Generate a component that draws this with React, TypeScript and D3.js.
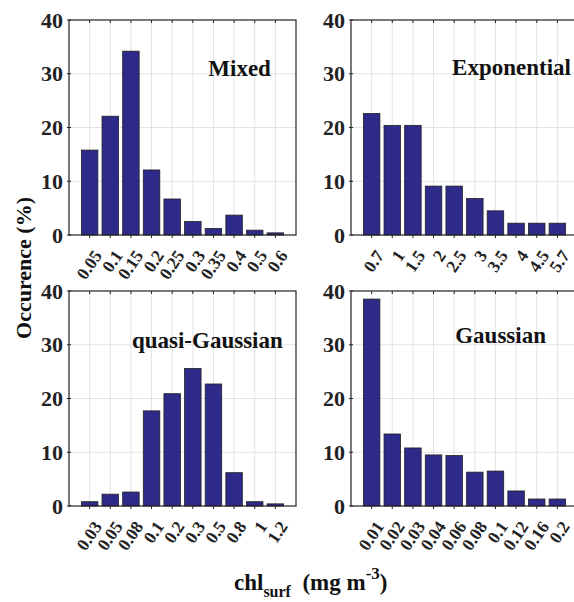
import React, { useEffect, useRef } from 'react';
import * as d3 from 'd3';

// chl_surf class labels for each panel
const mixedBins = ['0.05', '0.1', '0.15', '0.2', '0.25', '0.3', '0.35', '0.4', '0.5', '0.6'];
const exponentialBins = ['0.7', '1', '1.5', '2', '2.5', '3', '3.5', '4', '4.5', '5.7'];
const quasiGaussianBins = ['0.03', '0.05', '0.08', '0.1', '0.2', '0.3', '0.5', '0.8', '1', '1.2'];
const gaussianBins = ['0.01', '0.02', '0.03', '0.04', '0.06', '0.08', '0.1', '0.12', '0.16', '0.2'];

// occurrence (%) per bin
const mixedValues = [15.8, 22.1, 34.2, 12.1, 6.7, 2.5, 1.2, 3.7, 0.9, 0.4];
const exponentialValues = [22.6, 20.4, 20.4, 9.1, 9.1, 6.8, 4.5, 2.2, 2.2, 2.2];
const quasiGaussianValues = [0.8, 2.2, 2.6, 17.7, 20.9, 25.6, 22.7, 6.2, 0.8, 0.4];
const gaussianValues = [38.5, 13.4, 10.8, 9.5, 9.4, 6.3, 6.5, 2.8, 1.3, 1.3];

const yTicks = [0, 10, 20, 30, 40];

const FONT = '"Liberation Serif", "Times New Roman", serif';
const BAR = '#2e2a8a';

const W = 574;
const H = 602;
const PW = 227;

const panels = [
  { name: 'Mixed', bins: mixedBins, values: mixedValues, x0: 69, y0: 20, y1: 235, tx: 6.75, ty: 29.6 },
  { name: 'Exponential', bins: exponentialBins, values: exponentialValues, x0: 351, y0: 20, y1: 235, tx: 4.9, ty: 29.8 },
  { name: 'quasi-Gaussian', bins: quasiGaussianBins, values: quasiGaussianValues, x0: 69, y0: 291, y1: 506, tx: 3.05, ty: 29.4 },
  { name: 'Gaussian', bins: gaussianBins, values: gaussianValues, x0: 351, y0: 291, y1: 506, tx: 5.05, ty: 30.3 },
];

const App: React.FC = () => {
  const svgRef = useRef<SVGSVGElement | null>(null);

  useEffect(() => {
    if (!svgRef.current) return;
    const svg = d3.select(svgRef.current);
    svg.selectAll('*').remove();

    svg.append('defs')
      .append('clipPath')
      .attr('id', 'page')
      .append('rect')
      .attr('width', W)
      .attr('height', H);

    const root = svg.append('g').attr('clip-path', 'url(#page)');
    root.append('rect').attr('width', W).attr('height', H).attr('fill', '#fff');

    panels.forEach((p) => {
      const g = root.append('g');
      const x = d3
        .scaleBand<string>()
        .domain(p.bins)
        .range([p.x0, p.x0 + PW])
        .paddingInner(0.2)
        .paddingOuter(0.6);
      // linear helper in "category units" for text placement
      const xu = d3.scaleLinear().domain([0, p.bins.length + 1]).range([p.x0, p.x0 + PW]);
      const y = d3.scaleLinear().domain([0, 40]).range([p.y1, p.y0]);
      const cx = (b: string) => (x(b) as number) + x.bandwidth() / 2;

      // grid
      g.selectAll('line.vg')
        .data(p.bins)
        .enter()
        .append('line')
        .attr('x1', cx)
        .attr('x2', cx)
        .attr('y1', p.y0)
        .attr('y2', p.y1)
        .attr('stroke', '#e3e3e3')
        .attr('stroke-width', 1);
      g.selectAll('line.hg')
        .data(yTicks.slice(1, -1))
        .enter()
        .append('line')
        .attr('x1', p.x0)
        .attr('x2', p.x0 + PW)
        .attr('y1', (d) => y(d))
        .attr('y2', (d) => y(d))
        .attr('stroke', '#e3e3e3')
        .attr('stroke-width', 1);

      // bars
      g.selectAll('rect.bar')
        .data(p.values)
        .enter()
        .append('rect')
        .attr('x', (_d, i) => x(p.bins[i]) as number)
        .attr('y', (d) => y(d))
        .attr('width', x.bandwidth())
        .attr('height', (d) => y(0) - y(d))
        .attr('fill', BAR)
        .attr('stroke', '#222')
        .attr('stroke-width', 0.8);

      // box
      g.append('rect')
        .attr('x', p.x0)
        .attr('y', p.y0)
        .attr('width', PW)
        .attr('height', p.y1 - p.y0)
        .attr('fill', 'none')
        .attr('stroke', '#222')
        .attr('stroke-width', 1.2);

      // ticks
      p.bins.forEach((b) => {
        g.append('line')
          .attr('x1', cx(b)).attr('x2', cx(b))
          .attr('y1', p.y0).attr('y2', p.y0 + 3)
          .attr('stroke', '#222');
        g.append('line')
          .attr('x1', cx(b)).attr('x2', cx(b))
          .attr('y1', p.y1).attr('y2', p.y1 + 3)
          .attr('stroke', '#222');
      });
      yTicks.forEach((t) => {
        g.append('line')
          .attr('x1', p.x0 - 2).attr('x2', p.x0 + 2)
          .attr('y1', y(t)).attr('y2', y(t))
          .attr('stroke', '#222');
      });

      // y tick labels
      g.selectAll('text.yt')
        .data(yTicks)
        .enter()
        .append('text')
        .attr('x', p.x0 - 6)
        .attr('y', (d) => y(d))
        .attr('dy', '0.35em')
        .attr('text-anchor', 'end')
        .attr('font-family', FONT)
        .attr('font-weight', 'bold')
        .attr('font-size', 22)
        .attr('fill', '#222')
        .text((d) => d);

      // x tick labels, rotated
      g.selectAll('text.xt')
        .data(p.bins)
        .enter()
        .append('text')
        .attr('transform', (d) => `translate(${cx(d) + 8},${p.y1 + 17}) rotate(-56)`)
        .attr('dy', '0.35em')
        .attr('text-anchor', 'end')
        .attr('font-family', FONT)
        .attr('font-weight', 'bold')
        .attr('font-size', 17.5)
        .attr('fill', '#222')
        .text((d) => d);

      // panel title
      g.append('text')
        .attr('x', xu(p.tx))
        .attr('y', y(p.ty))
        .attr('font-family', FONT)
        .attr('font-weight', 'bold')
        .attr('font-size', 23)
        .attr('fill', '#111')
        .text(p.name);
    });

    // y axis label
    root.append('text')
      .attr('transform', 'translate(31,268) rotate(-90)')
      .attr('text-anchor', 'middle')
      .attr('font-family', FONT)
      .attr('font-weight', 'bold')
      .attr('font-size', 22)
      .attr('fill', '#111')
      .text('Occurence (%)');

    // x axis label
    const xl = root.append('text')
      .attr('x', 234)
      .attr('y', 590)
      .attr('font-family', FONT)
      .attr('font-weight', 'bold')
      .attr('font-size', 23)
      .attr('fill', '#111');
    xl.append('tspan').text('chl');
    xl.append('tspan').attr('font-size', 16).attr('dy', 7).text('surf');
    xl.append('tspan').attr('dy', -7).text('\u00a0\u00a0(mg m');
    xl.append('tspan').attr('font-size', 17).attr('dy', -11).text('-3');
    xl.append('tspan').attr('dy', 11).text(')');
  }, []);

  return (
    <svg
      ref={svgRef}
      width={W}
      height={H}
      style={{ position: 'absolute', left: 0, top: 0, display: 'block' }}
    />
  );
};

export default App;
